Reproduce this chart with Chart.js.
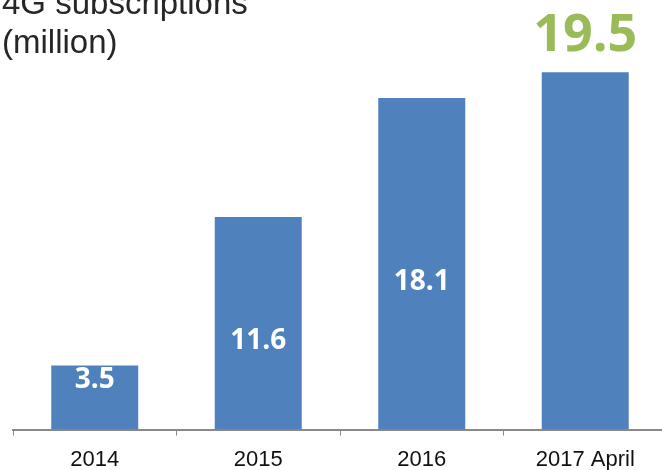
<!DOCTYPE html>
<html>
<head>
<meta charset="utf-8">
<script src="https://cdn.jsdelivr.net/npm/chart.js@4/dist/chart.umd.min.js"></script>
<style>
  html, body { margin: 0; padding: 0; background: #fff; overflow: hidden; }
  #wrap { position: absolute; left: 0; top: 0; width: 662px; height: 470px; overflow: hidden; }
</style>
</head>
<body>
<div id="wrap"><canvas id="chart4g" width="672" height="485"></canvas></div>
<script>
// data
const kategori = ["2014", "2015", "2016", "2017 April"];
const pelanggan = [3.5, 11.6, 18.1, 19.5];
const labelNilai = ["3.5", "11.6", "18.1", "19.5"];
const judul = ["4G subscriptions", "(million)"];

// ===== plugin: title + value labels =====
const labelPlugin = {
    id: "labelPlugin",
    afterDatasetsDraw(chart, args, opts) {
        const ctx = chart.ctx;
        const meta = chart.getDatasetMeta(0);
        const yScale = chart.scales.y;
        ctx.save();
        ctx.textAlign = "center";
        ctx.textBaseline = "middle";
        meta.data.forEach(function (bar, i) {
            if (i === meta.data.length - 1) {
                // last one sits above the bar, big and green
                ctx.fillStyle = "#9BBB59";
                ctx.font = "bold 52px 'Open Sans'";
                ctx.fillText(labelNilai[i], bar.x, bar.y - 36);
            } else {
                ctx.fillStyle = "#ffffff";
                ctx.font = "bold 28px 'Open Sans'";
                ctx.fillText(labelNilai[i], bar.x, yScale.getPixelForValue(opts.anchor[i]));
            }
        });
        // title
        ctx.textAlign = "left";
        ctx.textBaseline = "alphabetic";
        ctx.fillStyle = "#262626";
        ctx.font = "33px 'Liberation Sans', Arial";
        ctx.fillText(judul[0], 2, 14);
        ctx.fillText(judul[1], 2, 53);
        ctx.restore();
    }
};

new Chart(document.getElementById("chart4g"), {
    type: "bar",
    data: {
        labels: kategori,
        datasets: [{
            data: pelanggan,
            backgroundColor: "#4F81BD",
            borderWidth: 0,
            categoryPercentage: 1,
            barPercentage: 0.532
        }]
    },
    options: {
        responsive: false,
        animation: false,
        devicePixelRatio: 1,
        layout: { padding: { top: 10, left: 13, right: 5, bottom: 1 } },
        plugins: {
            legend: { display: false },
            tooltip: { enabled: false },
            labelPlugin: { anchor: [2.68, 4.81, 8.03] }
        },
        scales: {
            x: {
                offset: true,
                grid: {
                    offset: true,
                    drawOnChartArea: false,
                    drawTicks: true,
                    tickLength: 6,
                    color: "#898989",
                    lineWidth: 1
                },
                border: { display: true, color: "#898989", width: 2 },
                ticks: {
                    color: "#111",
                    padding: 11,
                    font: { family: "'Liberation Sans', Arial", size: 22 },
                    maxRotation: 0
                }
            },
            y: {
                display: false,
                min: 0,
                max: 22.9
            }
        }
    },
    plugins: [labelPlugin]
});
</script>
</body>
</html>
